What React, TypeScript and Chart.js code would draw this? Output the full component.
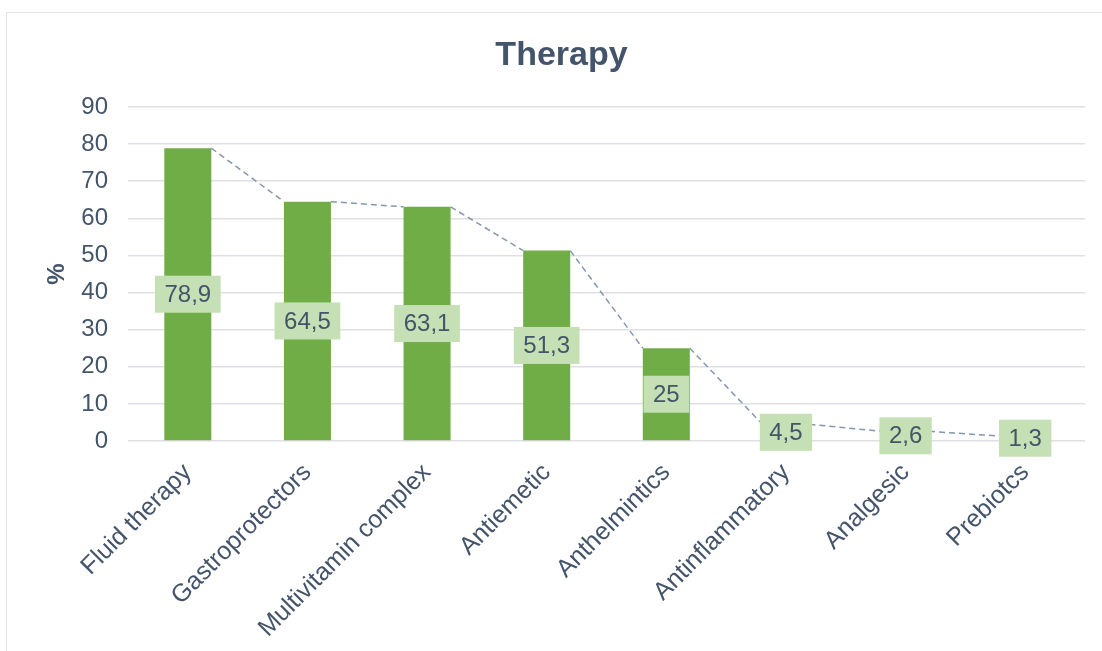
import { useEffect, useRef } from 'react';
import { Chart, registerables } from 'chart.js';

Chart.register(...registerables);

const categories = [
  'Fluid therapy',
  'Gastroprotectors',
  'Multivitamin complex',
  'Antiemetic',
  'Anthelmintics',
  'Antinflammatory',
  'Analgesic',
  'Prebiotcs',
];
const percentValues = [78.9, 64.5, 63.1, 51.3, 25, 4.5, 2.6, 1.3];
const yAxisMin = 0;
const yAxisMax = 90;
const yAxisStep = 10;
const chartTitle = 'Therapy';
const yAxisTitle = '%';

const FONT = '"Liberation Sans", Arial, sans-serif';
const TEXT = '#44546a';
const BAR = '#70ad47';
const LABEL_BG = '#c5e0b4';
const SERIES_LINE = '#8497b0';
const GRID = '#dfe0e5';

const formatValue = (v: number) => String(v).replace('.', ',');

// Dashed connectors between neighbouring bar tops, plus boxed value labels.
const barDecorations = {
  id: 'barDecorations',
  afterDatasetsDraw(chart: any) {
    const meta = chart.getDatasetMeta(0);
    const ctx = chart.ctx as CanvasRenderingContext2D;
    const bars = meta.data as any[];

    ctx.save();
    ctx.setLineDash([6, 4]);
    ctx.strokeStyle = SERIES_LINE;
    ctx.lineWidth = 1.5;
    for (let i = 0; i < bars.length - 1; i++) {
      const a = bars[i].getProps(['x', 'y', 'width'], true);
      const b = bars[i + 1].getProps(['x', 'y', 'width'], true);
      ctx.beginPath();
      ctx.moveTo(a.x + a.width / 2, a.y);
      ctx.lineTo(b.x - b.width / 2, b.y);
      ctx.stroke();
    }
    ctx.restore();

    ctx.save();
    ctx.font = `24px ${FONT}`;
    ctx.textAlign = 'center';
    ctx.textBaseline = 'middle';
    bars.forEach((bar, i) => {
      const p = bar.getProps(['x', 'y', 'base'], true);
      const text = formatValue(percentValues[i]);
      const w = ctx.measureText(text).width + 19;
      const h = 37;
      const cy = (p.y + p.base) / 2;
      ctx.fillStyle = LABEL_BG;
      ctx.fillRect(p.x - w / 2, cy - h / 2, w, h);
      ctx.fillStyle = TEXT;
      ctx.fillText(text, p.x, cy + 1);
    });
    ctx.restore();
  },
};

export default function App() {
  const canvasRef = useRef<HTMLCanvasElement | null>(null);

  useEffect(() => {
    if (!canvasRef.current) return;
    Chart.defaults.font.family = FONT;
    const chart = new Chart(canvasRef.current, {
      type: 'bar',
      data: {
        labels: categories,
        datasets: [
          {
            data: percentValues,
            backgroundColor: BAR,
            barPercentage: 0.393,
            categoryPercentage: 1,
          },
        ],
      },
      options: {
        animation: false,
        responsive: false,
        devicePixelRatio: 1,
        layout: { padding: { top: 35.6, right: 17, left: 38, bottom: 0 } },
        plugins: {
          legend: { display: false },
          tooltip: { enabled: false },
          title: {
            display: true,
            text: chartTitle,
            color: TEXT,
            font: { size: 34, weight: 'bold', family: FONT, lineHeight: 1.2 },
            padding: { top: 0, bottom: 30.6 },
          },
        },
        scales: {
          x: {
            grid: { display: false },
            border: { display: false },
            ticks: {
              color: TEXT,
              font: { size: 25, family: FONT },
              maxRotation: 45,
              minRotation: 45,
              padding: 9,
              autoSkip: false,
            },
            afterFit(scale: any) {
              scale.height = 210;
            },
          },
          y: {
            min: yAxisMin,
            max: yAxisMax,
            grid: { color: GRID, lineWidth: 1.5, drawTicks: false },
            border: { display: false },
            ticks: {
              stepSize: yAxisStep,
              color: TEXT,
              font: { size: 24, family: FONT },
              padding: 20,
            },
            title: {
              display: true,
              text: yAxisTitle,
              color: TEXT,
              font: { size: 24, weight: 'bold', family: FONT, lineHeight: 1.2 },
              padding: { top: 4.6, bottom: 0 },
            },
            afterFit(scale: any) {
              scale.width = 90;
            },
          },
        },
      },
      plugins: [barDecorations],
    });
    return () => chart.destroy();
  }, []);

  return (
    <div
      style={{
        position: 'fixed',
        left: 0,
        top: 0,
        width: 1102,
        height: 651,
        overflow: 'hidden',
        background: '#ffffff',
      }}
    >
      <div
        style={{
          position: 'absolute',
          left: 6,
          top: 12,
          width: 1200,
          height: 800,
          border: '1px solid #e3e3e3',
        }}
      />
      <canvas
        ref={canvasRef}
        width={1102}
        height={651}
        style={{ position: 'absolute', left: 0, top: 0, width: 1102, height: 651 }}
      />
    </div>
  );
}
